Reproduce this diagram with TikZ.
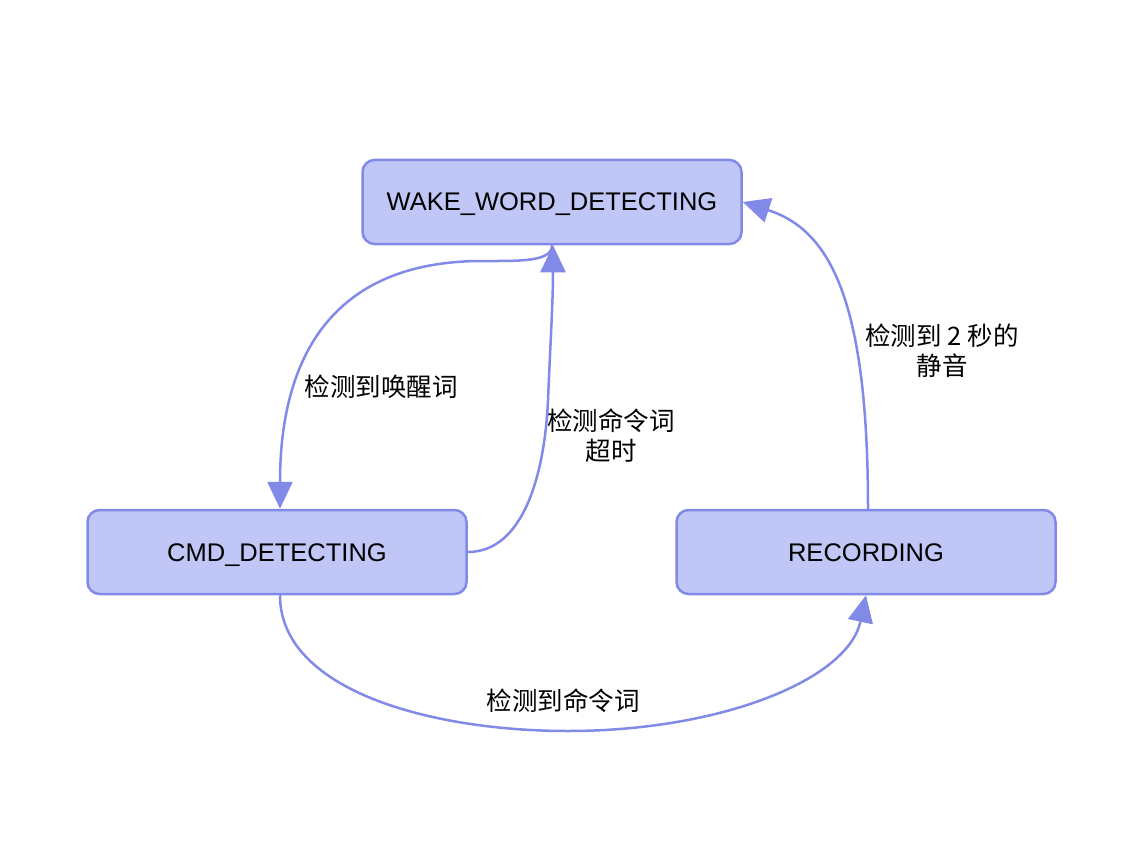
\documentclass[tikz,border=0pt]{standalone}
\usepackage{fontspec}
\setmainfont{Liberation Sans}
\newfontfamily\cjk{Noto Sans CJK SC}
\usetikzlibrary{arrows.meta}
\definecolor{statefill}{RGB}{192,198,245}
\definecolor{stateline}{RGB}{130,138,232}

\begin{document}
\begin{tikzpicture}[x=1pt, y=-1pt, font=\fontsize{25.5}{30}\selectfont,
			state/.style={draw=stateline, fill=statefill, line width=2.5pt, rounded corners=12pt,
				minimum width=379pt, minimum height=84pt, inner sep=0pt, text height=18pt, text depth=0pt},
			trans/.style={draw=stateline, line width=2.5pt, -{Triangle[length=27pt,width=25pt]}},
			lbl/.style={font=\cjk\fontsize{25.5}{30}\selectfont, align=center, inner sep=0pt}]
			\useasboundingbox (0,0) rectangle (1136,864);
			\node[state] (wake) at (552,202) {WAKE\_WORD\_DETECTING};
			\node[state] (cmd) at (277,552) {CMD\_DETECTING};
			\node[state] (rec) at (866,552) {RECORDING};
			% transitions
			\draw[trans] (wake.south) .. controls (552,262) and (520,261) .. (480,261)
				.. controls (330,262) and (280,360) .. (cmd.north -| 280,0);
			\draw[trans] (cmd.east) .. controls (525,552) and (545,470) .. (548,400)
				.. controls (551,330) and (553,300) .. (wake.south -| 553,0);
			\draw[trans] (cmd.south -| 280,0) .. controls (280,690) and (430,731) .. (568,731)
				.. controls (720,731) and (848,680) .. (rec.south -| 866,0);
			\draw[trans] (rec.north -| 868,0) .. controls (868,300) and (830,230) .. (wake.east);
			% labels
			\node[lbl] (l1) at (381,387) {检测到唤醒词};
			\node[lbl] (l2) at (611,436) {检测命令词\\超时};
			\node[lbl] (l3) at (563,701) {检测到命令词};
			\node[lbl] (l4) at (942,351) {检测到 2 秒的\\静音};
		\end{tikzpicture}
\end{document}
